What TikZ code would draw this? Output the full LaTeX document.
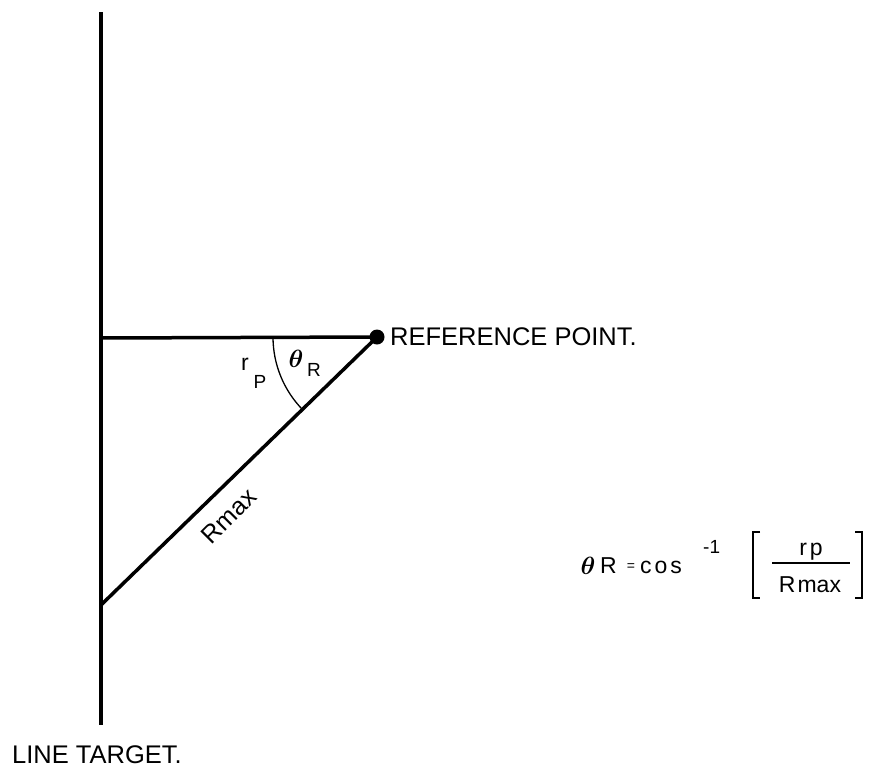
\documentclass[tikz,border=0pt]{standalone}
\usepackage{fontspec}
\usepackage{bm}
\setmainfont{Liberation Sans}
\begin{document}
\begin{tikzpicture}[x=1pt,y=-1pt,
  thick line/.style={line width=3.5pt},
  txt/.style={inner sep=0pt, font=\fontsize{25.5}{26}\selectfont},
  mid/.style={inner sep=0pt, font=\fontsize{23}{24}\selectfont},
  small/.style={inner sep=0pt, font=\fontsize{19}{20}\selectfont},
  thin line/.style={line width=1.3pt}]
\useasboundingbox (0,0) rectangle (870,774);
% geometry
\coordinate (top) at (101,12);
\coordinate (bot) at (101,725);
\coordinate (hl) at (101,338);
\coordinate (fp) at (101,605);
\node[circle, fill, inner sep=0pt, minimum size=15pt] (ref) at (377,337) {};
\draw[thick line] (top) -- (bot);
\draw[thick line] (hl) -- (ref.center);
\draw[thick line] (ref.center) -- (fp);
\draw[thin line] (ref.center) ++(180:104) arc[start angle=180, end angle=135.4, radius=104];
% labels
\node[txt, anchor=base west] (reflbl) at (390,345) {REFERENCE POINT.};
\node[txt, anchor=base west] (linelbl) at (12,763) {LINE TARGET.};
\node[inner sep=0pt, font=\fontsize{25}{26}\selectfont, rotate=45] (rmax) at (229,516) {Rmax};
\node[inner sep=0pt, font=\fontsize{36}{36}\selectfont] (th) at (296,359) {$\bm{\theta}$};
\node[small] (thR) at (314,370) {R};
\node[mid, anchor=base] (r) at (245,370) {r};
\node[small] (rP) at (260,382) {P};
% formula
\node[inner sep=0pt, font=\fontsize{32}{32}\selectfont, anchor=base] (fth) at (588,574) {$\bm{\theta}$};
\node[mid, anchor=base west] (fR) at (600,573) {R};
\node[inner sep=0pt, font=\fontsize{14}{14}\selectfont] (feq) at (631,567) {=};
\node[mid, anchor=base west] (fcos) at (640,573) {c\kern3pt o\kern3pt s};
\node[small, anchor=base west] (fexp) at (703,553) {-1};
\node[mid, anchor=base] (frp) at (811,555) {r\kern3pt p};
\node[mid, anchor=base] (fRmax) at (810,592) {R\kern2pt max};
\coordinate (lb1) at (760,532);
\coordinate (lb2) at (753,532);
\coordinate (lb3) at (753,598);
\coordinate (lb4) at (760,598);
\coordinate (rb1) at (855,532);
\coordinate (rb2) at (862,532);
\coordinate (rb3) at (862,598);
\coordinate (rb4) at (855,598);
\coordinate (bar1) at (772,563);
\coordinate (bar2) at (850,563);
\draw[thin line] (lb1) -- (lb2) -- (lb3) -- (lb4);
\draw[thin line] (rb1) -- (rb2) -- (rb3) -- (rb4);
\draw[line width=1.6pt] (bar1) -- (bar2);
\end{tikzpicture}
\end{document}
